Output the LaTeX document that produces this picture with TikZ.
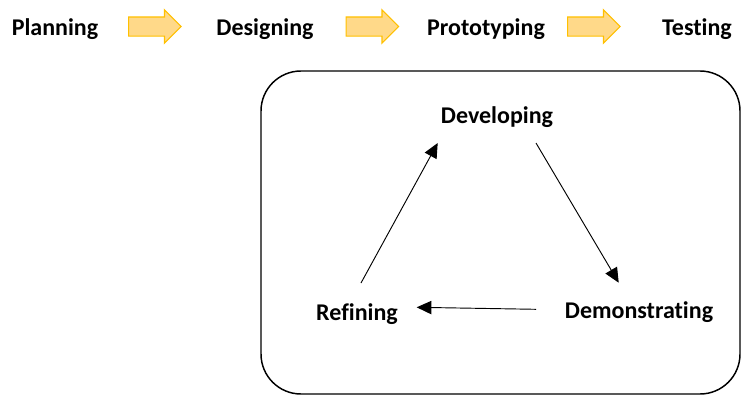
\documentclass[tikz,border=0pt]{standalone}
\usepackage{xcolor}
\usepackage{fontspec}
\setmainfont{Carlito}[Ligatures=NoCommon]
\usepackage{tikz}
\usetikzlibrary{arrows.meta,shapes.arrows,calc}

\definecolor{arrowfill}{RGB}{255,217,137}
\definecolor{arrowline}{RGB}{255,192,0}

\tikzset{
  stage/.style={inner sep=0pt,anchor=base,font=\fontsize{18}{21}\selectfont\bfseries},
  blockarrow/.style={draw=arrowline,fill=arrowfill,line width=0.9pt,shape=single arrow,anchor=tail,
    minimum height=39.4pt,inner sep=6.75pt,single arrow head extend=5.25pt},
  cycle/.style={-{Triangle[length=11pt,width=10pt]},line width=0.7pt}
}

\begin{document}
\begin{tikzpicture}[x=0.75pt,y=0.75pt,yscale=-1,xscale=1]
	%set diagram size to the page: 742 x 396
	\useasboundingbox (0,0) rectangle (742,396);
	
	% Top row
	\node [stage] (plan) at (55,36) {Planning};
	\node [stage] (design) at (265,36) {Designing};
	\node [stage] (proto) at (486,36) {Prototyping};
	\node [stage] (test) at (697,36) {Testing};
	% Block arrows
	\node [blockarrow] (a1) at (128,26.5) {};
	\node [blockarrow] (a2) at (345.5,26.5) {};
	\node [blockarrow] (a3) at (567,26.5) {};
	
	% Rounded frame
	\draw [line width=1.1pt,rounded corners=30pt] (261,71) rectangle (740,394);
	
	% Cycle nodes
	\node [stage] (dev) at (497,123.3) {Developing};
	\node [stage] (ref) at (357,320) {Refining};
	\node [stage] (demo) at (639,318.3) {Demonstrating};
	
	% Cycle arrows
	\draw [cycle] ($(ref.base)+(4,-37)$) -- ($(dev.base)+(-59.3,19.7)$);
	\draw [cycle] ($(dev.base)+(39,19.7)$) -- ($(demo.base)+(-20.3,-35.6)$);
	\draw [cycle] ($(demo.base)+(-103,-9)$) -- ($(ref.base)+(59.7,-12.7)$);
\end{tikzpicture}
\end{document}
